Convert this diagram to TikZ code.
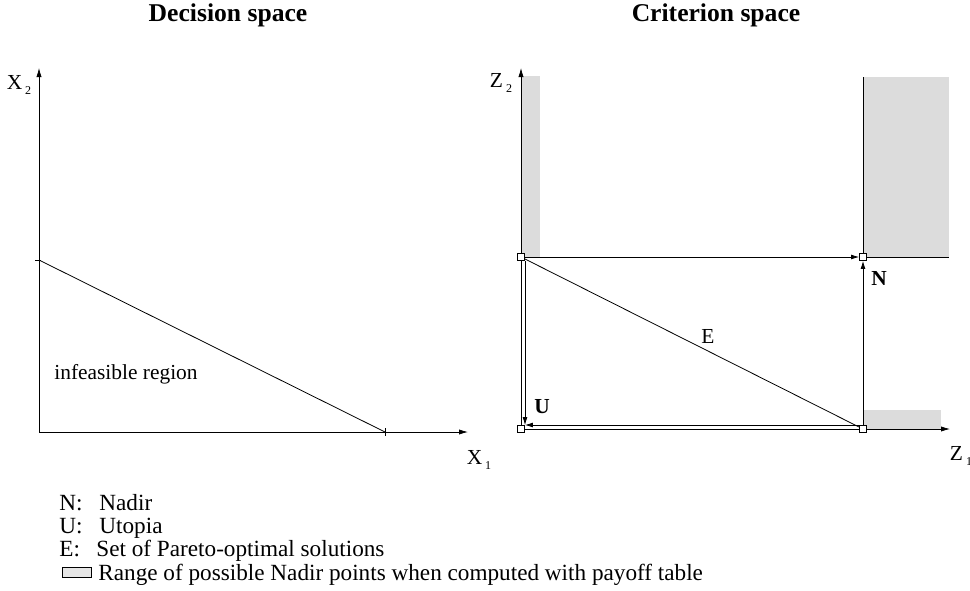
\documentclass[tikz,border=0pt]{standalone}
\usepackage{fontspec}
\setmainfont{Liberation Serif}
\usetikzlibrary{arrows.meta, positioning}
\definecolor{shade}{RGB}{220,220,220}
\tikzset{axis/.style={-{Latex[length=4.5pt,width=2.6pt]}},line/.style={-{Latex[length=4pt,width=2.4pt]}},corner/.style={rectangle,draw,fill=white,inner sep=0pt,minimum size=3.4pt},title/.style={font=\fontsize{12.8}{15}\selectfont\bfseries},lbl/.style={inner sep=1pt},leg/.style={anchor=base west,inner sep=0pt,font=\fontsize{11.6}{13.5}\selectfont},nadirrange/.style={fill=shade,draw=none}}
\newcommand{\axlabel}[2]{#1\hspace{1.5pt}\raisebox{-0.45ex}{\fontsize{6}{7}\selectfont #2}}

\begin{document}
\begin{tikzpicture}[x=0.5pt,y=-0.5pt,font=\fontsize{10.7}{12.8}\selectfont]
\useasboundingbox (0,0) rectangle (970,590);
% decision space
\node[title] (t1) at (228,15) {Decision space};
\coordinate (o1) at (39,432);
\coordinate (x1) at (468,432);
\coordinate (x2) at (39,68);
\draw[axis] (o1) -- (x1);
\draw[axis] (o1) -- (x2);
\node[lbl] (lx1) at (479,460) {\axlabel{X}{1}};
\node[lbl] (lx2) at (19,85) {\axlabel{X}{2}};
\coordinate (a) at (39,260);
\coordinate (b) at (385,432);
\draw (a) -- (b);
\draw ([xshift=-2pt]a) -- ([xshift=1pt]a);
\draw ([yshift=2pt]b) -- ([yshift=-2pt]b);
\node (inf) at (126,374) {infeasible region};
% criterion space
\node[title] (t2) at (716,15) {Criterion space};
\fill[nadirrange] (521,76) rectangle (540,257);
\fill[nadirrange] (863,77) rectangle (949,257);
\fill[nadirrange] (863,410) rectangle (941,429);
\coordinate (o2) at (521,429);
\coordinate (z1) at (950,429);
\coordinate (z2) at (521,68);
\draw[axis] (o2) -- (z1);
\draw[axis] (o2) -- (z2);
\node[lbl] (lz1) at (961,456) {\axlabel{Z}{1}};
\node[lbl] (lz2) at (501,83) {\axlabel{Z}{2}};
\node[corner] (P) at (521,257) {};
\node[corner] (N) at (863,257) {};
\node[corner] (U) at (521,429) {};
\node[corner] (Q) at (863,429) {};
\draw (863,77) -- (N);
\draw (N) -- (949,257);
\draw[line] (P) -- (N);
\draw[line] (Q) -- (N);
\draw (P) -- (Q);
\node[lbl] (E) at (708,336) {E};
\draw[line] ([xshift=2pt]P.south) -- ([xshift=2pt]U.north);
\draw[line] ([yshift=2pt]Q.west) -- ([yshift=2pt]U.east);
\node[lbl,font=\fontsize{10.7}{12.8}\selectfont\bfseries] (lN) at (879,278) {N};
\node[lbl,font=\fontsize{10.7}{12.8}\selectfont\bfseries] (lU) at (542,407) {U};
% legend
\node[leg] (kN) at (59,510) {N:};
\node[leg] (kU) at (59,533) {U:};
\node[leg] (kE) at (59,556) {E:};
\node[leg] (dN) at (99,510) {Nadir};
\node[leg] (dU) at (99,533) {Utopia};
\node[leg] (dE) at (96,556) {Set of Pareto-optimal solutions};
\node[draw,fill=shade!70,minimum width=14.5pt,minimum height=4.8pt,inner sep=0pt] (kR) at (77,572.5) {};
\node[leg] (dR) at (98,580) {Range of possible Nadir points when computed with payoff table};
\end{tikzpicture}
\end{document}
